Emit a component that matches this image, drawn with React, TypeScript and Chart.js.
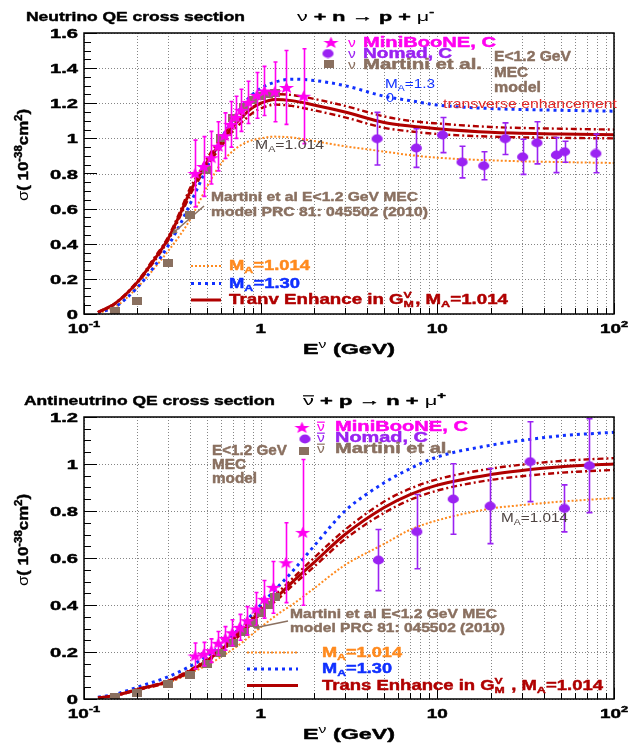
import { useEffect, useRef } from 'react';
import { Chart, registerables } from 'chart.js';

Chart.register(...registerables);

// ---------- Neutrino panel (nu + n -> p + mu-) ----------
const nuCurveE = [0.12, 0.15, 0.2, 0.25, 0.3, 0.35, 0.4, 0.45, 0.5, 0.6, 0.7, 0.8, 0.9, 1.0, 1.2, 1.5, 2, 3, 5, 7, 10, 20, 50, 100];
const nuTransEnh = [0.01, 0.06, 0.18, 0.31, 0.43, 0.57, 0.7, 0.79, 0.87, 0.98, 1.07, 1.13, 1.175, 1.2, 1.222, 1.215, 1.19, 1.15, 1.09, 1.07, 1.055, 1.035, 1.025, 1.02];
const nuTransEnhUp = [0.01, 0.062, 0.185, 0.32, 0.44, 0.585, 0.72, 0.81, 0.89, 1.005, 1.095, 1.16, 1.205, 1.23, 1.252, 1.247, 1.225, 1.185, 1.125, 1.1, 1.085, 1.065, 1.055, 1.05];
const nuTransEnhLo = [0.01, 0.058, 0.175, 0.3, 0.42, 0.555, 0.68, 0.77, 0.85, 0.955, 1.045, 1.1, 1.145, 1.17, 1.192, 1.185, 1.16, 1.12, 1.06, 1.04, 1.025, 1.01, 1.003, 1.0];
const nuMA130 = [0.008, 0.04, 0.15, 0.27, 0.39, 0.51, 0.63, 0.74, 0.84, 1.0, 1.11, 1.195, 1.25, 1.285, 1.32, 1.337, 1.33, 1.3, 1.24, 1.215, 1.19, 1.17, 1.16, 1.155];
const nuMA1014 = [0.005, 0.04, 0.15, 0.26, 0.36, 0.45, 0.54, 0.64, 0.73, 0.86, 0.93, 0.97, 0.99, 1.0, 1.01, 1.005, 0.985, 0.955, 0.925, 0.905, 0.89, 0.875, 0.865, 0.86];

const nuMiniBooNEE = [0.425, 0.475, 0.525, 0.575, 0.625, 0.675, 0.725, 0.775, 0.85, 0.95, 1.05, 1.2, 1.4, 1.75];
const nuMiniBooNESigma = [0.8, 0.84, 0.89, 0.955, 1.015, 1.08, 1.12, 1.16, 1.205, 1.245, 1.27, 1.265, 1.29, 1.24];
const nuMiniBooNEErr = [0.19, 0.17, 0.15, 0.14, 0.13, 0.13, 0.12, 0.12, 0.12, 0.13, 0.14, 0.17, 0.21, 0.27];

const nuNomadE = [4.56, 7.6, 10.7, 13.8, 18.3, 24.2, 30.4, 36.6, 47.2, 52.5, 78.9];
const nuNomadSigma = [0.998, 0.945, 1.019, 0.865, 0.844, 0.998, 0.895, 0.975, 0.905, 0.924, 0.914];
const nuNomadErr = [0.15, 0.11, 0.1, 0.09, 0.08, 0.09, 0.1, 0.12, 0.1, 0.06, 0.11];

const nuMartiniE = [0.15, 0.2, 0.3, 0.4, 0.5, 0.6, 0.7, 0.8, 0.9, 1.0, 1.1, 1.2];
const nuMartiniSigma = [0.015, 0.075, 0.29, 0.565, 0.82, 1.0, 1.115, 1.18, 1.22, 1.24, 1.255, 1.26];

// ---------- Antineutrino panel (nubar + p -> n + mu+) ----------
const anuCurveE = [0.12, 0.15, 0.2, 0.3, 0.4, 0.5, 0.6, 0.7, 0.8, 1.0, 1.3, 1.5, 2, 3, 5, 7, 10, 20, 30, 50, 100];
const anuTransEnh = [0.005, 0.015, 0.04, 0.075, 0.12, 0.165, 0.21, 0.255, 0.295, 0.375, 0.45, 0.495, 0.58, 0.7, 0.815, 0.87, 0.91, 0.955, 0.972, 0.988, 1.0];
const anuTransEnhUp = [0.005, 0.016, 0.042, 0.078, 0.125, 0.17, 0.217, 0.263, 0.305, 0.387, 0.465, 0.51, 0.6, 0.72, 0.84, 0.895, 0.935, 0.98, 0.997, 1.013, 1.025];
const anuTransEnhLo = [0.005, 0.014, 0.038, 0.072, 0.115, 0.16, 0.203, 0.247, 0.285, 0.363, 0.436, 0.48, 0.562, 0.68, 0.792, 0.847, 0.887, 0.932, 0.948, 0.963, 0.975];
const anuMA130 = [0.008, 0.02, 0.05, 0.095, 0.14, 0.185, 0.23, 0.275, 0.32, 0.4, 0.49, 0.54, 0.65, 0.8, 0.92, 0.98, 1.03, 1.08, 1.1, 1.12, 1.135];
const anuMA1014 = [0.005, 0.014, 0.038, 0.07, 0.11, 0.145, 0.18, 0.213, 0.245, 0.305, 0.37, 0.4, 0.47, 0.57, 0.66, 0.72, 0.76, 0.81, 0.825, 0.84, 0.855];

const anuMiniBooNEE = [0.425, 0.475, 0.525, 0.575, 0.63, 0.69, 0.76, 0.84, 0.94, 1.05, 1.18, 1.39, 1.73];
const anuMiniBooNESigma = [0.183, 0.191, 0.206, 0.237, 0.258, 0.282, 0.305, 0.333, 0.383, 0.424, 0.475, 0.58, 0.709];
const anuMiniBooNEErr = [0.055, 0.05, 0.05, 0.05, 0.05, 0.055, 0.055, 0.06, 0.07, 0.08, 0.11, 0.17, 0.31];

const anuNomadE = [4.64, 7.65, 12.3, 19.9, 33.5, 52.4, 72.5];
const anuNomadSigma = [0.591, 0.712, 0.851, 0.821, 1.01, 0.811, 0.993];
const anuNomadErr = [0.13, 0.158, 0.15, 0.16, 0.17, 0.1, 0.2];

const anuMartiniE = [0.15, 0.2, 0.3, 0.4, 0.5, 0.6, 0.7, 0.8, 0.9, 1.0, 1.1, 1.2];
const anuMartiniSigma = [0.01, 0.027, 0.064, 0.103, 0.148, 0.194, 0.24, 0.284, 0.325, 0.365, 0.4, 0.435];

// ---------- Axes ----------
const xDecades = [0.1, 1, 10, 100];
const xDecadeLabels: Seg[][] = [
  [{ t: '10' }, { t: '-1', s: 'sup' }],
  [{ t: '1' }],
  [{ t: '10' }],
  [{ t: '10' }, { t: '2', s: 'sup' }],
];
const nuYTicks = [0, 0.2, 0.4, 0.6, 0.8, 1, 1.2, 1.4, 1.6];
const nuYTickLabels = ['0', '0.2', '0.4', '0.6', '0.8', '1', '1.2', '1.4', '1.6'];
const anuYTicks = [0, 0.2, 0.4, 0.6, 0.8, 1, 1.2];
const anuYTickLabels = ['0', '0.2', '0.4', '0.6', '0.8', '1', '1.2'];

// ---------- Styling ----------
const FAM = '"Liberation Sans", Arial, sans-serif';
const C_MAGENTA = '#ff00f0';
const C_PURPLE = '#9a22f2';
const C_BROWN = '#8a7060';
const C_BLUE = '#1030ff';
const C_ORANGE = '#ff8a1e';
const C_DARKRED = '#b00000';
const C_RED = '#e02828';
const C_GRAY = '#4e4442';

const W = 629;
const H = 372;
const PLOT_L = 84;
const PLOT_R = 614;

type Seg = { t: string; s?: 'sup' | 'sub'; over?: boolean; stack?: [string, string]; reg?: boolean };

type TextItem = {
  segs: Seg[];
  x: number;
  y: number;
  size: number;
  bold: boolean;
  color: string;
  w?: number;
  align?: 'left' | 'center' | 'right';
};

type LegendRow = { marker: 'star' | 'circle' | 'square'; mx: number; my: number; nuX: number; bar: boolean; tx: number; ty: number; text: string; w: number; color: string };
type LineKey = { x1: number; x2: number; y: number; color: string; width: number; dash: number[]; text: Seg[]; tx: number; ty: number; tw: number };

type Panel = {
  top: number;
  bottom: number;
  yMax: number;
  yTicks: number[];
  yTickLabels: string[];
  texts: TextItem[];
  legend: LegendRow[];
  keys: LineKey[];
  arrow: [number, number, number, number];
  yTitleCenter: number;
};

function fontOf(size: number, bold: boolean) {
  return `${bold ? 'bold ' : ''}${size}px ${FAM}`;
}

function segWidth(ctx: CanvasRenderingContext2D, s: Seg, size: number, bold: boolean) {
  const b = bold && !s.reg;
  if (s.stack) {
    ctx.font = fontOf(size * 0.66, b);
    return Math.max(ctx.measureText(s.stack[0]).width, ctx.measureText(s.stack[1]).width) + 1;
  }
  ctx.font = fontOf(s.s ? size * 0.68 : size, b);
  return ctx.measureText(s.t).width;
}

function drawRich(
  ctx: CanvasRenderingContext2D,
  segs: Seg[],
  x: number,
  y: number,
  o: { size: number; bold: boolean; color: string; w?: number; sx?: number; align?: 'left' | 'center' | 'right' }
) {
  const widths = segs.map((s) => segWidth(ctx, s, o.size, o.bold));
  const nat = widths.reduce((a, b) => a + b, 0);
  const sx = o.w ? o.w / nat : o.sx ?? 1;
  const total = nat * sx;
  const x0 = o.align === 'center' ? x - total / 2 : o.align === 'right' ? x - total : x;
  ctx.save();
  ctx.translate(x0, y);
  ctx.scale(sx, 1);
  ctx.fillStyle = o.color;
  ctx.strokeStyle = o.color;
  ctx.textAlign = 'left';
  ctx.textBaseline = 'alphabetic';
  ctx.lineJoin = 'round';
  let cx = 0;
  const put = (t: string, px: number, py: number, heavy: boolean) => {
    ctx.fillText(t, px, py);
    if (heavy) {
      ctx.lineWidth = 0.45;
      ctx.strokeText(t, px, py);
    }
  };
  segs.forEach((s, i) => {
    const b = o.bold && !s.reg;
    if (s.stack) {
      ctx.font = fontOf(o.size * 0.66, b);
      put(s.stack[0], cx, -o.size * 0.42, b);
      put(s.stack[1], cx, o.size * 0.24, b);
    } else if (s.s === 'sup') {
      ctx.font = fontOf(o.size * 0.68, b);
      put(s.t, cx, -o.size * 0.42, b);
    } else if (s.s === 'sub') {
      ctx.font = fontOf(o.size * 0.68, b);
      put(s.t, cx, o.size * 0.24, b);
    } else {
      ctx.font = fontOf(o.size, b);
      put(s.t, cx, 0, b);
    }
    if (s.over) {
      ctx.lineWidth = 1.2;
      ctx.beginPath();
      ctx.moveTo(cx, -o.size * 0.68);
      ctx.lineTo(cx + widths[i], -o.size * 0.68);
      ctx.stroke();
    }
    cx += widths[i];
  });
  ctx.restore();
}

// ---------- Marker images ----------
const markerCache: Record<string, HTMLCanvasElement> = {};

function starMarker() {
  if (markerCache.star) return markerCache.star;
  const r = 6.2;
  const sx = 1.3;
  const c = document.createElement('canvas');
  c.width = Math.ceil(2 * r * sx) + 2;
  c.height = Math.ceil(2 * r) + 2;
  const g = c.getContext('2d')!;
  g.translate(c.width / 2, c.height / 2 + 0.5);
  g.beginPath();
  for (let i = 0; i < 10; i++) {
    const a = -Math.PI / 2 + (i * Math.PI) / 5;
    const rr = i % 2 === 0 ? r : r * 0.42;
    g.lineTo(Math.cos(a) * rr * sx, Math.sin(a) * rr);
  }
  g.closePath();
  g.fillStyle = C_MAGENTA;
  g.fill();
  markerCache.star = c;
  return c;
}

function circleMarker() {
  if (markerCache.circle) return markerCache.circle;
  const c = document.createElement('canvas');
  c.width = 13;
  c.height = 10;
  const g = c.getContext('2d')!;
  g.beginPath();
  g.ellipse(6.5, 5, 5.6, 4.4, 0, 0, Math.PI * 2);
  g.fillStyle = C_PURPLE;
  g.fill();
  markerCache.circle = c;
  return c;
}

function squareMarker() {
  if (markerCache.square) return markerCache.square;
  const c = document.createElement('canvas');
  c.width = 10;
  c.height = 8;
  const g = c.getContext('2d')!;
  g.fillStyle = C_BROWN;
  g.fillRect(0, 0, 10, 8);
  markerCache.square = c;
  return c;
}

function markerFor(kind: 'star' | 'circle' | 'square') {
  return kind === 'star' ? starMarker() : kind === 'circle' ? circleMarker() : squareMarker();
}

// ---------- Plugins ----------
const errorBarPlugin = {
  id: 'errorBars',
  beforeDatasetDraw(chart: any, args: any) {
    const ds = chart.data.datasets[args.index];
    if (!ds.errors) return;
    const { ctx, chartArea } = chart;
    const ys = chart.scales.y;
    ctx.save();
    ctx.beginPath();
    ctx.rect(chartArea.left, chartArea.top, chartArea.right - chartArea.left, chartArea.bottom - chartArea.top);
    ctx.clip();
    ctx.strokeStyle = ds.errColor;
    ctx.lineWidth = ds.errWidth;
    args.meta.data.forEach((pt: any, i: number) => {
      const v = ds.data[i].y;
      const e = ds.errors[i];
      const y1 = ys.getPixelForValue(v + e);
      const y2 = ys.getPixelForValue(v - e);
      const x = Math.round(pt.x) + 0.5;
      ctx.beginPath();
      ctx.moveTo(x, y1);
      ctx.lineTo(x, y2);
      if (ds.cap) {
        ctx.moveTo(x - ds.cap, y1);
        ctx.lineTo(x + ds.cap, y1);
        ctx.moveTo(x - ds.cap, y2);
        ctx.lineTo(x + ds.cap, y2);
      }
      ctx.stroke();
    });
    ctx.restore();
  },
};

function makeDecor(p: Panel) {
  const minorX: number[] = [];
  [0.1, 1, 10].forEach((d) => {
    for (let k = 1; k <= 9; k++) minorX.push(d * k);
  });
  minorX.push(100);
  return {
    id: 'panelDecor',
    beforeDatasetsDraw(chart: any) {
      const { ctx, chartArea: a } = chart;
      const xs = chart.scales.x;
      const ys = chart.scales.y;
      ctx.save();
      ctx.strokeStyle = '#858585';
      ctx.lineWidth = 1;
      ctx.setLineDash([1, 2]);
      minorX.forEach((v) => {
        const x = Math.round(xs.getPixelForValue(v)) + 0.5;
        ctx.beginPath();
        ctx.moveTo(x, a.top);
        ctx.lineTo(x, a.bottom);
        ctx.stroke();
      });
      p.yTicks.forEach((v) => {
        const y = Math.round(ys.getPixelForValue(v)) + 0.5;
        ctx.beginPath();
        ctx.moveTo(a.left, y);
        ctx.lineTo(a.right, y);
        ctx.stroke();
      });
      ctx.restore();
    },
    afterDatasetsDraw(chart: any) {
      const { ctx, chartArea: a } = chart;
      const xs = chart.scales.x;
      const ys = chart.scales.y;
      ctx.save();
      // frame
      ctx.strokeStyle = '#000';
      ctx.lineWidth = 1.5;
      ctx.strokeRect(a.left, a.top, a.right - a.left, a.bottom - a.top);
      // y ticks
      ctx.lineWidth = 1;
      const yMaxTick = p.yMax + 1e-9;
      for (let v = 0; v <= yMaxTick; v += 0.05) {
        const y = Math.round(ys.getPixelForValue(v)) + 0.5;
        const major = Math.abs(v / 0.2 - Math.round(v / 0.2)) < 1e-6;
        ctx.beginPath();
        ctx.moveTo(a.left, y);
        ctx.lineTo(a.left + (major ? 13 : 7), y);
        ctx.stroke();
      }
      // x ticks
      minorX.forEach((v) => {
        const x = Math.round(xs.getPixelForValue(v)) + 0.5;
        const major = xDecades.includes(v);
        ctx.beginPath();
        ctx.moveTo(x, a.bottom);
        ctx.lineTo(x, a.bottom - (major ? 11 : 6));
        ctx.stroke();
      });
      ctx.restore();

      // tick labels
      p.yTicks.forEach((v, i) => {
        drawRich(ctx, [{ t: p.yTickLabels[i] }], a.left - 6, ys.getPixelForValue(v) + 5, {
          size: 13,
          bold: true,
          color: '#000',
          sx: 1.55,
          align: 'right',
        });
      });
      xDecades.forEach((v, i) => {
        drawRich(ctx, xDecadeLabels[i], xs.getPixelForValue(v), a.bottom + 19, {
          size: 13.5,
          bold: true,
          color: '#000',
          sx: 1.4,
          align: 'center',
        });
      });
      // axis titles
      drawRich(ctx, [{ t: 'E' }, { t: 'ν', s: 'sup', reg: true }, { t: ' (GeV)' }], (a.left + a.right) / 2, a.bottom + 40, {
        size: 15,
        bold: true,
        color: '#000',
        w: 92,
        align: 'center',
      });
      ctx.save();
      ctx.translate(28, p.yTitleCenter);
      ctx.rotate(-Math.PI / 2);
      drawRich(
        ctx,
        [{ t: 'σ', reg: true }, { t: '( 10' }, { t: '-38', s: 'sup' }, { t: 'cm' }, { t: '2', s: 'sup' }, { t: ')' }],
        0,
        0,
        { size: 15, bold: true, color: '#000', w: 92, align: 'center' }
      );
      ctx.restore();

      // free text
      p.texts.forEach((t) => drawRich(ctx, t.segs, t.x, t.y, { size: t.size, bold: t.bold, color: t.color, w: t.w, align: t.align }));

      // marker legend
      p.legend.forEach((r) => {
        const img = markerFor(r.marker);
        ctx.drawImage(img, r.mx - img.width / 2, r.my - img.height / 2);
        drawRich(ctx, [{ t: 'ν', over: r.bar }], r.nuX, r.ty, { size: 13, bold: false, color: r.color, sx: 1.2 });
        drawRich(ctx, [{ t: r.text }], r.tx, r.ty, { size: 14.5, bold: true, color: r.color, w: r.w });
      });

      // line legend
      p.keys.forEach((k) => {
        ctx.save();
        ctx.strokeStyle = k.color;
        ctx.lineWidth = k.width;
        ctx.setLineDash(k.dash);
        ctx.beginPath();
        ctx.moveTo(k.x1, k.y);
        ctx.lineTo(k.x2, k.y);
        ctx.stroke();
        ctx.restore();
        drawRich(ctx, k.text, k.tx, k.ty, { size: 14.5, bold: true, color: k.color, w: k.tw });
      });

      // pointer from the MEC note to the curve
      const [x1, y1, x2, y2] = p.arrow;
      ctx.save();
      ctx.strokeStyle = C_BROWN;
      ctx.fillStyle = C_BROWN;
      ctx.lineWidth = 1.5;
      ctx.beginPath();
      ctx.moveTo(x1, y1);
      ctx.lineTo(x2, y2);
      ctx.stroke();
      const ang = Math.atan2(y2 - y1, x2 - x1);
      ctx.beginPath();
      ctx.moveTo(x2, y2);
      ctx.lineTo(x2 - 6 * Math.cos(ang - 0.45), y2 - 6 * Math.sin(ang - 0.45));
      ctx.lineTo(x2 - 6 * Math.cos(ang + 0.45), y2 - 6 * Math.sin(ang + 0.45));
      ctx.closePath();
      ctx.fill();
      ctx.restore();
    },
  };
}

// ---------- Dataset builders ----------
function pts(xs: number[], ys: number[]) {
  return xs.map((x, i) => ({ x, y: ys[i] }));
}

function curve(xs: number[], ys: number[], color: string, width: number, dash: number[]) {
  return {
    data: pts(xs, ys),
    showLine: true,
    borderColor: color,
    borderWidth: width,
    borderDash: dash,
    pointRadius: 0,
    cubicInterpolationMode: 'monotone',
    fill: false,
  };
}

function markers(xs: number[], ys: number[], kind: 'star' | 'circle' | 'square', errors?: number[], errColor?: string, cap?: number) {
  return {
    data: pts(xs, ys),
    showLine: false,
    pointStyle: markerFor(kind),
    pointRadius: 5,
    errors,
    errColor,
    errWidth: 1.6,
    cap,
  };
}

const DASH_BAND = [6, 3, 2, 3];
const DASH_BLUE = [3, 4];
const DASH_ORANGE = [2, 2];

function nuDatasets() {
  return [
    markers(nuMiniBooNEE, nuMiniBooNESigma, 'star', nuMiniBooNEErr, C_MAGENTA, 2),
    markers(nuMartiniE, nuMartiniSigma, 'square'),
    markers(nuNomadE, nuNomadSigma, 'circle', nuNomadErr, C_PURPLE, 3),
    curve(nuCurveE, nuTransEnh, C_DARKRED, 3, []),
    curve(nuCurveE, nuTransEnhUp, C_DARKRED, 2.4, DASH_BAND),
    curve(nuCurveE, nuTransEnhLo, C_DARKRED, 2.4, DASH_BAND),
    curve(nuCurveE, nuMA130, C_BLUE, 3, DASH_BLUE),
    curve(nuCurveE, nuMA1014, C_ORANGE, 2, DASH_ORANGE),
  ];
}

function anuDatasets() {
  return [
    markers(anuMiniBooNEE, anuMiniBooNESigma, 'star', anuMiniBooNEErr, C_MAGENTA, 2),
    markers(anuMartiniE, anuMartiniSigma, 'square'),
    markers(anuNomadE, anuNomadSigma, 'circle', anuNomadErr, C_PURPLE, 3),
    curve(anuCurveE, anuTransEnh, C_DARKRED, 3, []),
    curve(anuCurveE, anuTransEnhUp, C_DARKRED, 2.4, DASH_BAND),
    curve(anuCurveE, anuTransEnhLo, C_DARKRED, 2.4, DASH_BAND),
    curve(anuCurveE, anuMA130, C_BLUE, 3, DASH_BLUE),
    curve(anuCurveE, anuMA1014, C_ORANGE, 2, DASH_ORANGE),
  ];
}

const MA = (v: string): Seg[] => [{ t: 'M' }, { t: 'A', s: 'sub' }, { t: `=${v}` }];

const nuPanel: Panel = {
  top: 33,
  bottom: 314,
  yMax: 1.6,
  yTicks: nuYTicks,
  yTickLabels: nuYTickLabels,
  yTitleCenter: 155,
  texts: [
    { segs: [{ t: 'Neutrino QE cross section' }], x: 26, y: 21, size: 13.5, bold: true, color: '#000', w: 219 },
    { segs: [{ t: 'ν', reg: true }, { t: ' + n → p + ' }, { t: 'μ', reg: true }, { t: '-', s: 'sup' }], x: 297, y: 21, size: 13.5, bold: true, color: '#000', w: 137 },
    { segs: [{ t: 'E<1.2 GeV' }], x: 494, y: 61, size: 14.5, bold: true, color: C_BROWN, w: 77 },
    { segs: [{ t: 'MEC' }], x: 494, y: 77, size: 14.5, bold: true, color: C_BROWN, w: 34 },
    { segs: [{ t: 'model' }], x: 494, y: 92, size: 14.5, bold: true, color: C_BROWN, w: 47 },
    { segs: MA('1.3'), x: 385, y: 88, size: 13.5, bold: false, color: C_BLUE, w: 50 },
    { segs: [{ t: '0' }], x: 386, y: 102, size: 13.5, bold: false, color: C_BLUE, w: 8 },
    { segs: [{ t: 'transverse enhancement' }], x: 443, y: 108, size: 13.5, bold: false, color: C_RED, w: 174 },
    { segs: MA('1.014'), x: 255, y: 149, size: 13.5, bold: false, color: C_GRAY, w: 69 },
    { segs: [{ t: 'Martini et al E<1.2 GeV MEC' }], x: 211, y: 201, size: 13.5, bold: true, color: C_BROWN, w: 207 },
    { segs: [{ t: 'model PRC 81: 045502 (2010)' }], x: 211, y: 216, size: 13.5, bold: true, color: C_BROWN, w: 217 },
  ],
  legend: [
    { marker: 'star', mx: 331, my: 42.5, nuX: 348, bar: false, tx: 363, ty: 47, text: 'MiniBooNE, C', w: 133, color: C_MAGENTA },
    { marker: 'circle', mx: 328, my: 53.5, nuX: 348, bar: false, tx: 363, ty: 58, text: 'Nomad, C', w: 89, color: C_PURPLE },
    { marker: 'square', mx: 329, my: 64, nuX: 348, bar: false, tx: 363, ty: 68.5, text: 'Martini et al.', w: 119, color: C_BROWN },
  ],
  keys: [
    { x1: 191, x2: 221, y: 266, color: C_ORANGE, width: 2, dash: DASH_ORANGE, text: MA('1.014'), tx: 229, ty: 270, tw: 81 },
    { x1: 191, x2: 221, y: 283.5, color: C_BLUE, width: 3, dash: DASH_BLUE, text: MA('1.30'), tx: 229, ty: 287.5, tw: 71 },
    {
      x1: 191,
      x2: 221,
      y: 300,
      color: C_DARKRED,
      width: 3,
      dash: [],
      text: [{ t: 'Tranv Enhance in G' }, { t: '', stack: ['V', 'M'] }, { t: ', M' }, { t: 'A', s: 'sub' }, { t: '=1.014' }],
      tx: 229,
      ty: 304,
      tw: 279,
    },
  ],
  arrow: [204, 206, 172, 234],
};

const anuPanel: Panel = {
  top: 45,
  bottom: 327,
  yMax: 1.2,
  yTicks: anuYTicks,
  yTickLabels: anuYTickLabels,
  yTitleCenter: 168,
  texts: [
    { segs: [{ t: 'Antineutrino QE cross section' }], x: 24, y: 33, size: 13.5, bold: true, color: '#000', w: 251 },
    { segs: [{ t: 'ν', reg: true, over: true }, { t: ' + p → n + ' }, { t: 'μ', reg: true }, { t: '+', s: 'sup' }], x: 303, y: 33, size: 13.5, bold: true, color: '#000', w: 143 },
    { segs: [{ t: 'E<1.2 GeV' }], x: 212, y: 83, size: 14.5, bold: true, color: C_BROWN, w: 75 },
    { segs: [{ t: 'MEC' }], x: 212, y: 97, size: 14.5, bold: true, color: C_BROWN, w: 34 },
    { segs: [{ t: 'model' }], x: 212, y: 111, size: 14.5, bold: true, color: C_BROWN, w: 45 },
    { segs: MA('1.014'), x: 501, y: 149.5, size: 13.5, bold: false, color: C_GRAY, w: 67 },
    { segs: [{ t: 'Martini et al E<1.2 GeV MEC' }], x: 290, y: 246, size: 13.5, bold: true, color: C_BROWN, w: 207 },
    { segs: [{ t: 'model PRC 81: 045502 (2010)' }], x: 290, y: 259.5, size: 13.5, bold: true, color: C_BROWN, w: 215 },
  ],
  legend: [
    { marker: 'star', mx: 302, my: 55.5, nuX: 317, bar: true, tx: 335, ty: 59, text: 'MiniBooNE, C', w: 133, color: C_MAGENTA },
    { marker: 'circle', mx: 305, my: 67, nuX: 317, bar: true, tx: 335, ty: 70, text: 'Nomad, C', w: 93, color: C_PURPLE },
    { marker: 'square', mx: 304, my: 78.5, nuX: 317, bar: true, tx: 335, ty: 81, text: 'Martini et al.', w: 117, color: C_BROWN },
  ],
  keys: [
    { x1: 247, x2: 298, y: 280.5, color: C_ORANGE, width: 2, dash: DASH_ORANGE, text: MA('1.014'), tx: 322, ty: 284.5, tw: 80 },
    { x1: 247, x2: 298, y: 297, color: C_BLUE, width: 3, dash: DASH_BLUE, text: MA('1.30'), tx: 322, ty: 301, tw: 70 },
    {
      x1: 247,
      x2: 298,
      y: 313.5,
      color: C_DARKRED,
      width: 3,
      dash: [],
      text: [{ t: 'Trans Enhance in G' }, { t: '', stack: ['V', 'M'] }, { t: ' , M' }, { t: 'A', s: 'sub' }, { t: '=1.014' }],
      tx: 322,
      ty: 318,
      tw: 281,
    },
  ],
  arrow: [288, 249, 254, 256],
};

function PanelChart({ panel, datasets }: { panel: Panel; datasets: any[] }) {
  const ref = useRef<HTMLCanvasElement | null>(null);
  useEffect(() => {
    if (!ref.current) return;
    const chart = new Chart(ref.current, {
      type: 'scatter',
      data: { datasets },
      options: {
        animation: false,
        responsive: false,
        devicePixelRatio: 1,
        events: [],
        layout: { padding: { left: PLOT_L, right: W - PLOT_R, top: panel.top, bottom: H - panel.bottom } },
        scales: {
          x: { type: 'logarithmic', min: 0.1, max: 100, display: false },
          y: { type: 'linear', min: 0, max: panel.yMax, display: false },
        },
        plugins: { legend: { display: false }, tooltip: { enabled: false } },
      },
      plugins: [errorBarPlugin, makeDecor(panel)],
    } as any);
    return () => chart.destroy();
  }, []);
  return <canvas ref={ref} width={W} height={H} style={{ display: 'block', width: W, height: H }} />;
}

export default function App() {
  return (
    <div style={{ position: 'fixed', left: 0, top: 0, width: W, height: 2 * H, background: '#fff' }}>
      <PanelChart panel={nuPanel} datasets={nuDatasets()} />
      <PanelChart panel={anuPanel} datasets={anuDatasets()} />
    </div>
  );
}
